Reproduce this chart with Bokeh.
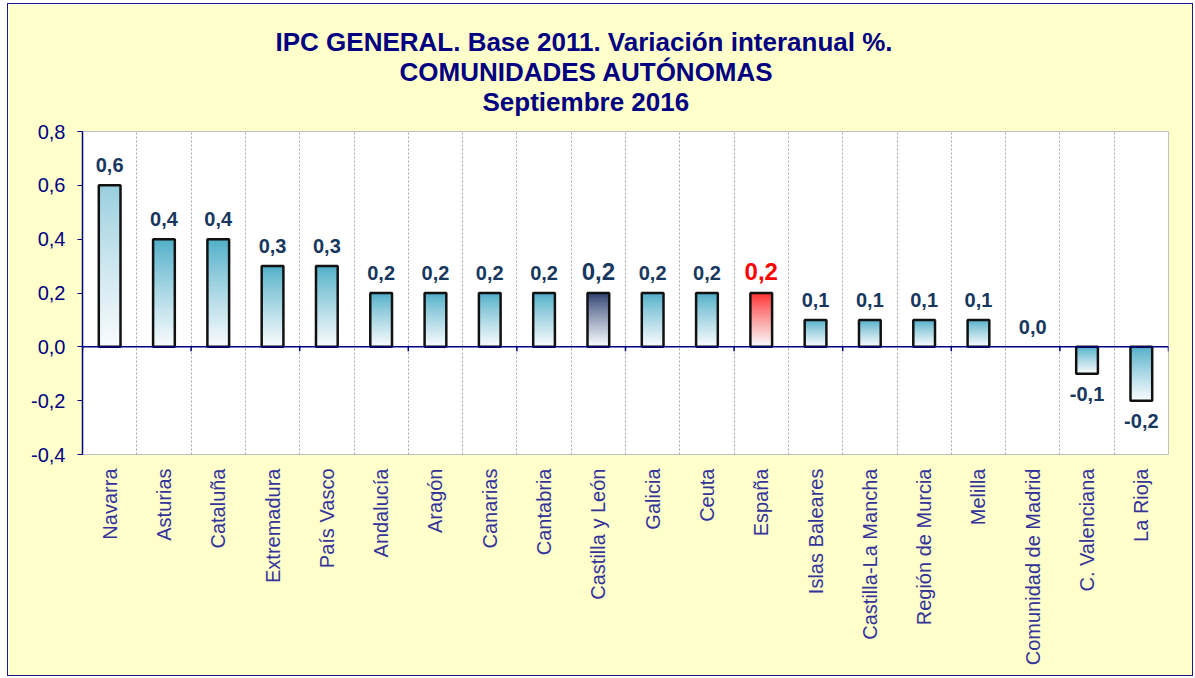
import math
from bokeh.plotting import figure
from bokeh.models import ColumnDataSource, Range1d, FixedTicker, CustomJSTickFormatter, Span, Title
from bokeh.embed import file_html
from bokeh.resources import INLINE
from bokeh.core.properties import value

categories = ["Navarra", "Asturias", "Cataluña", "Extremadura", "País Vasco", "Andalucía",
              "Aragón", "Canarias", "Cantabria", "Castilla y León", "Galicia", "Ceuta",
              "España", "Islas Baleares", "Castilla-La Mancha", "Región de Murcia", "Melilla",
              "Comunidad de Madrid", "C. Valenciana", "La Rioja"]
values = [0.6, 0.4, 0.4, 0.3, 0.3, 0.2, 0.2, 0.2, 0.2, 0.2, 0.2, 0.2, 0.2,
          0.1, 0.1, 0.1, 0.1, 0.0, -0.1, -0.2]
y_ticks = [-0.4, -0.2, 0.0, 0.2, 0.4, 0.6, 0.8]
title_lines = ["IPC GENERAL. Base 2011. Variación interanual %.",
               "COMUNIDADES AUTÓNOMAS",
               "Septiembre 2016"]

TEAL = (75, 172, 198)
LIGHT_TEAL = (150, 205, 221)
NAVY = (40, 58, 108)
RED = (255, 40, 40)
WHITE = (248, 251, 253)

def top_color(cat):
    if cat == "Navarra":
        return LIGHT_TEAL
    if cat == "Castilla y León":
        return NAVY
    if cat == "España":
        return RED
    return TEAL

FONT = "Liberation Sans"
n = len(categories)
xc = [i + 0.5 for i in range(n)]
BW = 0.4

# gradient slices
NS = 40
sl = dict(left=[], right=[], top=[], bottom=[], color=[])
for i, (cat, v) in enumerate(zip(categories, values)):
    if v == 0:
        continue
    hi, lo = max(v, 0.0), min(v, 0.0)
    c0 = top_color(cat)
    for k in range(NS):
        t0 = k / NS
        t1 = (k + 1) / NS
        tm = (t0 + t1) / 2
        f = tm ** 0.85
        col = tuple(int(round(c0[j] * (1 - f) + WHITE[j] * f)) for j in range(3))
        sl["left"].append(xc[i] - BW / 2)
        sl["right"].append(xc[i] + BW / 2)
        sl["top"].append(hi - (hi - lo) * t0)
        sl["bottom"].append(hi - (hi - lo) * t1)
        sl["color"].append("#%02x%02x%02x" % col)

bars = ColumnDataSource(dict(
    x=[xc[i] for i, v in enumerate(values) if v != 0],
    top=[max(v, 0) for v in values if v != 0],
    bottom=[min(v, 0) for v in values if v != 0],
))

lab_txt = [("%.1f" % v).replace(".", ",") for v in values]
lab_col = ["#ff0000" if c == "España" else "#17375e" for c in categories]
lab_size = ["24px" if c in ("España", "Castilla y León") else "20px" for c in categories]
lab_base = ["top" if v < 0 else "bottom" for v in values]
lab_off = [13 if v < 0 else -13 for v in values]
labels = ColumnDataSource(dict(x=xc, y=values, text=lab_txt, color=lab_col,
                               size=lab_size, base=lab_base, off=lab_off))

p = figure(width=1186, height=673, x_range=Range1d(0, n), y_range=Range1d(-0.4, 0.8),
           output_backend="svg", toolbar_location=None, title=None,
           min_border_left=74, min_border_right=26, min_border_top=127, min_border_bottom=223)
p.styles = {"border": "1px solid #1a1a8a", "margin-left": "7px", "margin-top": "3px"}
p.background_fill_color = "white"
p.border_fill_color = "#ffffcc"
p.outline_line_color = "#c0c0c0"
p.outline_line_width = 1

# grid at category boundaries
p.xgrid.ticker = FixedTicker(ticks=list(range(1, n)))
p.xgrid.grid_line_color = "#a6a6a6"
p.xgrid.grid_line_dash = "2 2"
p.xgrid.grid_line_width = 1
p.ygrid.grid_line_color = None

# x axis
p.xaxis.ticker = FixedTicker(ticks=xc)
p.xaxis.major_label_overrides = {x: c for x, c in zip(xc, categories)}
p.xaxis.major_label_orientation = math.pi / 2
p.xaxis.axis_line_color = None
p.xaxis.major_tick_line_color = None
p.xaxis.minor_tick_line_color = None
p.xaxis.major_label_standoff = 8
p.xaxis.major_label_text_color = "#333399"
p.xaxis.major_label_text_font = FONT
p.xaxis.major_label_text_font_size = "20px"

# y axis
p.yaxis.ticker = FixedTicker(ticks=y_ticks)
p.yaxis.formatter = CustomJSTickFormatter(code="return tick.toFixed(1).replace('.', ',');")
p.yaxis.axis_line_color = "#000080"
p.yaxis.axis_line_width = 1.5
p.yaxis.major_tick_line_color = "#000080"
p.yaxis.major_tick_out = 5
p.yaxis.major_tick_in = 0
p.yaxis.minor_tick_line_color = None
p.yaxis.major_label_standoff = 12
p.yaxis.major_label_text_color = "#000080"
p.yaxis.major_label_text_font = FONT
p.yaxis.major_label_text_font_size = "20px"

# bars
p.quad(left="left", right="right", top="top", bottom="bottom", fill_color="color",
       line_color="color", line_width=1, source=ColumnDataSource(sl))
p.vbar(x="x", top="top", bottom="bottom", width=BW, fill_color=None,
       line_color="#111111", line_width=2.5, source=bars)

# zero line with ticks at every second boundary
p.add_layout(Span(location=0, dimension="width", line_color="#000080", line_width=1.5))
tb = list(range(0, n + 1, 2))
p.segment(x0=tb, y0=[0] * len(tb), x1=tb, y1=[-0.016] * len(tb), line_color="#000080", line_width=1.5)

# value labels
p.text(x="x", y="y", text="text", text_color="color", text_font_size="size",
       text_baseline="base", y_offset="off", text_align="center",
       text_font=value(FONT), text_font_style="bold", source=labels)

# title, stacked from the frame outward
title_specs = [  # (line index, horizontal offset, standoff, vertical align)
    (2, 400, 26, "top"),
    (1, 317, -26, "bottom"),
    (0, 193, 22, "bottom"),
]
for idx, off, so, va in title_specs:
    p.add_layout(Title(text=title_lines[idx], align="left", offset=off, standoff=so,
                       vertical_align=va, text_font=FONT, text_font_style="bold",
                       text_font_size="26px", text_color="#000080"), "above")

open("out.html", "w").write(file_html(p, INLINE))
